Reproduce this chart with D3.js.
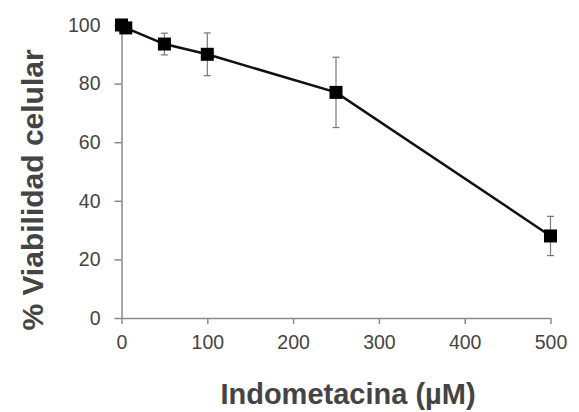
<!DOCTYPE html>
<html>
<head>
<meta charset="utf-8">
<script src="https://cdn.jsdelivr.net/npm/d3@7"></script>
<style>
  html, body { margin: 0; padding: 0; background: #fff; }
  svg { display: block; }
  text { font-family: "Liberation Sans", Arial, sans-serif; }
</style>
</head>
<body>
<svg id="chart" width="579" height="412"></svg>
<script>
// Data
const concentrations = [0, 5, 50, 100, 250, 500];          // Indometacina (µM)
const viability      = [100, 99, 93.5, 90, 77, 28];        // % Viabilidad celular
const errors         = [0, 0, 3.7, 7.3, 12, 6.7];          // error bar half-lengths
const xTicks = [0, 100, 200, 300, 400, 500];
const yTicks = [0, 20, 40, 60, 80, 100];
const xTitle = "Indometacina (µM)";
const yTitle = "% Viabilidad celular";

const svg = d3.select("#chart");
const x = d3.scaleLinear().domain([0, 500]).range([121.5, 550.5]);
const y = d3.scaleLinear().domain([0, 100]).range([318, 25]);

const axisColor = "#8a8a8a";
const labelColor = "#444";

// X axis
const gx = svg.append("g").attr("transform", `translate(0,${y(0)})`)
  .call(d3.axisBottom(x).tickValues(xTicks).tickSize(6).tickPadding(11).tickSizeOuter(0));
gx.select(".domain").attr("stroke", axisColor).attr("stroke-width", 1.5);
gx.selectAll(".tick line").attr("stroke", axisColor).attr("stroke-width", 1.5);
gx.selectAll(".tick text").attr("fill", labelColor).style("font-size", "19.5px")
  .style("font-family", "'Liberation Sans', Arial, sans-serif");

// Y axis
const gy = svg.append("g").attr("transform", `translate(${x(0)},0)`)
  .call(d3.axisLeft(y).tickValues(yTicks).tickSize(7).tickPadding(14).tickSizeOuter(0));
gy.select(".domain").attr("stroke", axisColor).attr("stroke-width", 1.5);
gy.selectAll(".tick line").attr("stroke", axisColor).attr("stroke-width", 1.5);
gy.selectAll(".tick text").attr("fill", labelColor).style("font-size", "19.5px")
  .style("font-family", "'Liberation Sans', Arial, sans-serif");

const data = concentrations.map((c, i) => ({ c, v: viability[i], e: errors[i] }));

// Error bars
const eb = svg.append("g").attr("stroke", "#777").attr("stroke-width", 1.2);
data.filter(d => d.e > 0).forEach(d => {
  const cx = x(d.c);
  eb.append("line").attr("x1", cx).attr("x2", cx).attr("y1", y(d.v + d.e)).attr("y2", y(d.v - d.e));
  eb.append("line").attr("x1", cx - 3.5).attr("x2", cx + 3.5).attr("y1", y(d.v + d.e)).attr("y2", y(d.v + d.e));
  eb.append("line").attr("x1", cx - 3.5).attr("x2", cx + 3.5).attr("y1", y(d.v - d.e)).attr("y2", y(d.v - d.e));
});

// Line
svg.append("path").datum(data)
  .attr("fill", "none").attr("stroke", "#111").attr("stroke-width", 2.5)
  .attr("d", d3.line().x(d => x(d.c)).y(d => y(d.v)));

// Markers
const s = 13;
svg.append("g").selectAll("rect").data(data).join("rect")
  .attr("x", d => x(d.c) - s / 2).attr("y", d => y(d.v) - s / 2)
  .attr("width", s).attr("height", s).attr("fill", "#000");

// Axis titles
svg.append("text").attr("x", 348).attr("y", 404).attr("text-anchor", "middle")
  .attr("fill", labelColor).style("font-weight", "bold").style("font-size", "29px")
  .text(xTitle);
svg.append("text").attr("transform", "translate(43,190) rotate(-90)").attr("text-anchor", "middle")
  .attr("fill", labelColor).style("font-weight", "bold").style("font-size", "30px")
  .text(yTitle);
</script>
</body>
</html>
